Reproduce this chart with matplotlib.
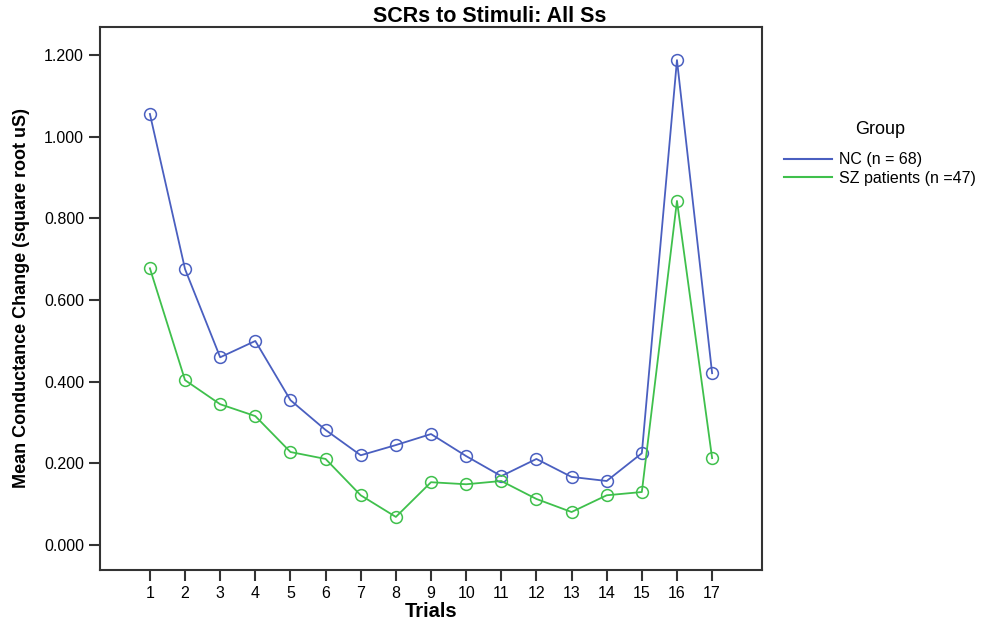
import matplotlib
matplotlib.use("Agg")
import matplotlib.pyplot as plt
from matplotlib.lines import Line2D

plt.rcParams["font.family"] = ["Liberation Sans", "DejaVu Sans"]

trials = list(range(1, 18))
nc_vals = [1.056, 0.676, 0.460, 0.500, 0.355, 0.282, 0.220, 0.245, 0.272,
           0.218, 0.169, 0.211, 0.167, 0.157, 0.225, 1.188, 0.421]
sz_vals = [0.678, 0.404, 0.345, 0.316, 0.228, 0.211, 0.122, 0.069, 0.154,
           0.149, 0.157, 0.113, 0.081, 0.122, 0.130, 0.843, 0.213]
yticks = [0.0, 0.2, 0.4, 0.6, 0.8, 1.0, 1.2]
nc_label = "NC (n = 68)"
sz_label = "SZ patients (n =47)"
blue = "#4a5fc0"
green = "#3fc04c"

fig = plt.figure(figsize=(9.89, 6.24), dpi=100)
ax = fig.add_axes([100 / 989, 1 - 570 / 624, 662 / 989, 543 / 624])

ax.plot(trials, nc_vals, "-", color=blue, lw=1.3, marker="o", ms=8.5,
        mfc="none", mec=blue, mew=1.1)
ax.plot(trials, sz_vals, "-", color=green, lw=1.3, marker="o", ms=8.5,
        mfc="none", mec=green, mew=1.1)

ax.set_xlim(-0.42, 18.42)
ax.set_ylim(-0.061, 1.269)
ax.set_xticks(trials)
ax.set_yticks(yticks)
ax.set_yticklabels(["{:.3f}".format(v) for v in yticks])
ax.tick_params(direction="out", length=8, width=1.5, labelsize=11.5, color="#333333")
for s in ax.spines.values():
    s.set_linewidth(1.5)
    s.set_color("#333333")

ax.set_xlabel("Trials", fontsize=14.5, fontweight="bold", labelpad=1)
ax.set_ylabel("Mean Conductance Change (square root uS)", fontsize=13,
              fontweight="bold", labelpad=10)
fig.text(490 / 989, 1 - 16 / 624, "SCRs to Stimuli: All Ss", ha="center",
         va="center", fontsize=15.5, fontweight="bold")

fig.text(880 / 989, 1 - 130 / 624, "Group", ha="center", va="center", fontsize=13)
handles = [Line2D([], [], color=blue, lw=1.5), Line2D([], [], color=green, lw=1.5)]
leg = fig.legend(handles, [nc_label, sz_label],
                 loc="upper left", bbox_to_anchor=(770 / 989, 1 - 138 / 624),
                 frameon=False, fontsize=11.5,
                 handlelength=3, handletextpad=0.4, labelspacing=0.2)

fig.savefig("out.png", dpi=100)
